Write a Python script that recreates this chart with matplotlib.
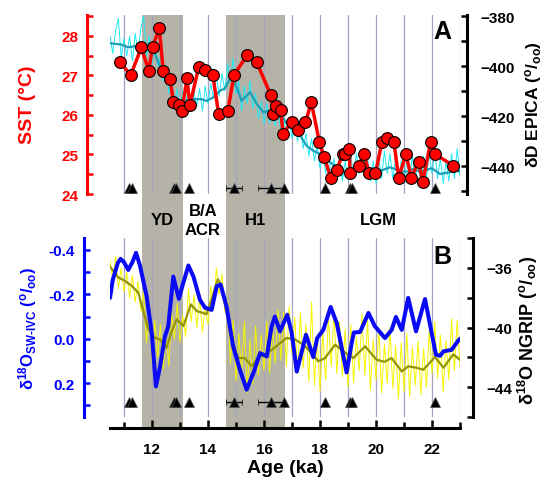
import matplotlib.pyplot as plt
from matplotlib.ticker import MultipleLocator, FixedLocator
import numpy as np

plt.rcParams['font.family'] = ['Liberation Sans', 'DejaVu Sans']
plt.rcParams['font.weight'] = 'bold'
plt.rcParams['mathtext.fontset'] = 'custom'
plt.rcParams['mathtext.rm'] = 'Liberation Sans:bold'
plt.rcParams['mathtext.bf'] = 'Liberation Sans:bold'
plt.rcParams['mathtext.it'] = 'Liberation Sans:bold'
plt.rcParams['mathtext.default'] = 'bf'

# ---- data ----
# SST record (panel A, left axis)
sst_age = [10.86, 11.24, 11.62, 11.88, 12.02, 12.26, 12.40, 12.65, 12.76, 12.95,
           13.07, 13.25, 13.35, 13.67, 13.88, 14.17, 14.38, 14.71, 14.93, 15.40,
           15.74, 16.24, 16.31, 16.42, 16.60, 16.68, 16.99, 17.20, 17.48, 17.69,
           17.98, 18.15, 18.39, 18.60, 18.81, 18.90, 19.05, 19.07, 19.38, 19.57,
           19.76, 19.98, 20.21, 20.38, 20.64, 20.81, 21.07, 21.26, 21.52, 21.67,
           21.95, 22.10, 22.76]
sst_val = [27.33, 27.01, 27.71, 27.12, 27.71, 28.20, 27.12, 26.91, 26.32, 26.24,
           26.11, 26.93, 26.24, 27.22, 27.14, 27.01, 26.03, 26.11, 27.01, 27.52,
           27.33, 26.51, 26.03, 26.22, 26.13, 25.52, 25.83, 25.62, 25.81, 26.32,
           25.31, 24.93, 24.41, 24.62, 25.01, 25.01, 25.14, 24.52, 24.72, 25.01,
           24.52, 24.52, 25.31, 25.41, 25.31, 24.41, 25.01, 24.41, 24.82, 24.31,
           25.31, 25.01, 24.72]

# EPICA dD raw (0.1 ka steps from 10.5 ka) and smoothed
epica_age = np.round(np.arange(10.5, 23.01, 0.1), 2)
epica_raw = [-388, -395, -386, -381, -397, -389, -396, -388, -398, -387,
             -395, -385, -380, -396, -388, -399, -391, -400, -396, -406,
             -400, -411, -404, -416, -409, -418, -410, -416, -408, -417,
             -410, -416, -409, -418, -408, -415, -407, -413, -404, -412,
             -403, -410, -399, -406, -397, -411, -406, -418, -408, -415,
             -406, -417, -411, -421, -414, -423, -415, -423, -416, -424,
             -418, -426, -420, -428, -421, -429, -423, -430, -424, -433,
             -427, -436, -429, -438, -432, -441, -434, -443, -435, -444,
             -437, -445, -436, -446, -438, -445, -436, -444, -435, -443,
             -434, -444, -437, -446, -438, -447, -437, -445, -434, -443,
             -435, -445, -437, -446, -438, -447, -437, -445, -436, -446,
             -437, -447, -436, -445, -435, -443, -434, -445, -437, -447,
             -438, -446, -435, -445, -433, -444]
epica_sm_age = [10.5, 10.9, 11.15, 11.5, 11.8, 12.1, 12.35, 12.64, 12.82, 13.18,
                13.48, 13.77, 13.95, 14.19, 14.43, 14.6, 14.85, 15.04, 15.2, 15.5,
                15.74, 15.98, 16.15, 16.39, 16.7, 16.9, 17.05, 17.25, 17.52, 17.76,
                18.0, 18.3, 18.65, 18.95, 19.25, 19.5, 19.79, 20.14, 20.5, 20.86,
                21.15, 21.35, 21.57, 21.99, 22.29, 22.64, 22.88, 23.0]
epica_sm = [-390.9, -391.4, -392.5, -391.9, -391.5, -395.2, -401.9, -407.9, -413.2, -413.9,
            -413.2, -413.3, -414.0, -412.5, -409.9, -409.0, -403.9, -409.0, -413.9, -410.5,
            -415.2, -418.5, -418.0, -419.2, -421.0, -424.5, -425.5, -427.0, -431.9, -433.9,
            -435.2, -437.9, -441.2, -442.5, -441.9, -440.8, -442.5, -442.0, -440.5, -442.0,
            -442.3, -441.0, -442.4, -440.9, -443.2, -442.5, -441.9, -442.3]

# seawater d18O (panel B, left axis, inverted)
sw_age = [10.5, 10.6, 10.78, 10.88, 11.0, 11.15, 11.3, 11.43, 11.57, 11.81, 11.99, 12.14,
          12.29, 12.46, 12.58, 12.76, 12.96, 13.09, 13.30, 13.48, 13.71, 13.89,
          14.13, 14.31, 14.45, 14.66, 14.90, 15.14, 15.38, 15.62, 15.86, 16.10,
          16.27, 16.39, 16.57, 16.83, 16.99, 17.17, 17.50, 17.76, 17.90, 18.12,
          18.38, 18.60, 18.95, 19.13, 19.21, 19.43, 19.73, 19.96, 20.32, 20.56,
          20.71, 20.92, 21.15, 21.43, 21.75, 22.14, 22.29, 22.41, 22.70, 22.94, 23.0]
sw_val = [-0.184, -0.266, -0.342, -0.36, -0.345, -0.31, -0.345, -0.387, -0.33, -0.19, -0.026, 0.215,
          0.125, -0.01, -0.055, -0.28, -0.18, -0.24, -0.33, -0.28, -0.176, -0.14,
          -0.13, -0.236, -0.244, -0.146, 0.035, 0.14, 0.23, 0.155, 0.065, 0.08,
          -0.055, -0.10, -0.033, -0.108, -0.026, 0.148, -0.018, 0.083, -0.003, -0.04,
          -0.143, -0.07, 0.152, 0.02, -0.028, -0.03, -0.116, -0.056, -0.003, -0.04,
          -0.098, -0.04, -0.184, -0.033, -0.179, 0.072, 0.077, 0.057, 0.05, 0.008, 0.0]

# NGRIP d18O raw (0.1 ka steps from 10.5 ka) and smoothed
ngrip_age = np.round(np.arange(10.5, 23.01, 0.1), 2)
ngrip_raw = [-35.5, -36.8, -35.2, -37.4, -36.0, -37.6, -36.3, -38.0, -36.5, -38.3,
             -36.9, -38.9, -37.6, -41.0, -39.0, -42.3, -39.5, -42.0, -39.8, -42.8,
             -40.2, -42.6, -39.0, -40.8, -38.4, -41.0, -39.2, -40.6, -37.4, -39.6,
             -37.8, -40.0, -38.0, -40.3, -38.6, -39.8, -37.2, -38.6, -36.0, -37.8,
             -36.4, -38.9, -38.2, -42.4, -39.5, -43.6, -40.4, -43.0, -39.6, -44.4,
             -40.8, -43.8, -39.9, -43.2, -40.5, -42.9, -39.6, -43.0, -40.1, -42.4,
             -38.8, -42.2, -39.0, -42.6, -38.6, -41.8, -39.3, -43.1, -39.0, -42.7,
             -39.8, -43.6, -38.3, -43.9, -40.6, -44.3, -40.2, -43.5, -39.3, -42.6,
             -39.0, -43.1, -39.6, -43.3, -40.1, -44.0, -39.8, -43.7, -40.6, -42.9,
             -39.1, -43.2, -39.5, -44.2, -40.8, -43.5, -40.0, -44.4, -41.1, -43.8,
             -40.0, -44.1, -41.2, -44.8, -41.0, -44.3, -40.4, -44.6, -41.3, -43.9,
             -40.9, -44.5, -41.4, -44.0, -40.2, -43.1, -39.6, -43.4, -40.5, -44.3,
             -40.9, -43.5, -39.4, -42.9, -39.5, -42.6]
ngrip_sm_age = [10.5, 10.8, 11.04, 11.27, 11.51, 11.69, 11.87, 12.11, 12.29, 12.52,
                12.70, 12.88, 13.12, 13.39, 13.60, 13.95, 14.13, 14.35, 14.49, 14.67,
                14.90, 15.08, 15.32, 15.56, 15.80, 16.04, 16.27, 16.51, 16.81, 17.11,
                17.40, 17.70, 17.94, 18.18, 18.54, 18.83, 19.19, 19.61, 20.02, 20.30,
                20.56, 20.92, 21.15, 21.45, 21.69, 22.11, 22.41, 22.76, 23.0]
ngrip_sm = [-35.93, -36.65, -36.88, -37.2, -37.66, -38.9, -40.13, -40.7, -40.8, -41.37,
            -40.25, -39.46, -39.9, -38.45, -38.9, -39.1, -38.1, -36.76, -37.2, -39.1,
            -41.15, -42.05, -42.05, -42.6, -42.0, -41.8, -41.5, -41.15, -40.7, -40.8,
            -41.15, -41.7, -42.27, -42.05, -41.15, -41.6, -42.05, -41.26, -42.16, -42.3,
            -42.05, -42.95, -42.6, -42.7, -42.83, -41.98, -42.7, -41.8, -42.16]

# age control points (triangles) and their errors
tie_age = [11.18, 11.30, 12.79, 12.85, 13.33, 14.93, 16.24, 16.71, 18.18, 19.08, 19.15, 22.11]
tie_err = [0, 0, 0, 0, 0, 0.30, 0.44, 0, 0, 0, 0, 0]

# shaded intervals: YD, H1
shade = [(11.64, 13.1), (14.64, 16.75)]
periods = ['YD', 'B/A', 'ACR', 'H1', 'LGM']
period_x = [12.36, 13.82, 13.82, 15.68, 20.1]
period_ypx = [221, 211, 231, 221, 221]

# ---- layout (pixel boxes) ----
W, H = 548, 485


def box(x0, y0, x1, y1):
    return [x0 / W, 1 - y1 / H, (x1 - x0) / W, (y1 - y0) / H]


def px2pt(p):
    return p * 72 / 100.


fig = plt.figure(figsize=(5.48, 4.85), dpi=100)
xmin, xmax = 10.5, 23.0

# base axes: shading + age axis
ax = fig.add_axes(box(110, 16, 460, 429))
ax.set_xlim(xmin, xmax)
ax.set_ylim(0, 1)
for a0, a1 in shade:
    ax.axvspan(a0, a1, color='#b5b3a7', lw=0)
for s in ['left', 'right', 'top']:
    ax.spines[s].set_visible(False)
ax.spines['bottom'].set_linewidth(2.2)
ax.set_yticks([])
ax.xaxis.set_major_locator(FixedLocator([12, 14, 16, 18, 20, 22]))
ax.xaxis.set_minor_locator(FixedLocator([11, 13, 15, 17, 19, 21, 23]))
ax.tick_params(axis='x', which='major', direction='in', length=px2pt(8), width=1.8,
               labelsize=11, pad=px2pt(14))
ax.tick_params(axis='x', which='minor', direction='in', length=px2pt(6), width=1.8)
ax.set_xlabel('Age (ka)', fontsize=14, fontweight='bold', labelpad=2)

for name, px, py in zip(periods, period_x, period_ypx):
    ax.text(px, (429 - py) / 413, name, transform=ax.get_xaxis_transform(),
            ha='center', va='center', fontsize=12)


def setup_panel(box_px, lcol, loff, roff):
    left = fig.add_axes(box(*box_px))
    right = left.twinx()
    left.set_zorder(right.get_zorder() + 1)
    left.patch.set_visible(False)
    for a in (left, right):
        a.set_xlim(xmin, xmax)
        a.spines['top'].set_visible(False)
        a.spines['bottom'].set_visible(False)
        a.xaxis.set_visible(False)
    left.spines['right'].set_visible(False)
    right.spines['left'].set_visible(False)
    left.spines['left'].set_position(('outward', px2pt(loff)))
    left.spines['left'].set_color(lcol)
    left.spines['left'].set_linewidth(2.2)
    right.spines['right'].set_position(('outward', px2pt(roff)))
    right.spines['right'].set_linewidth(2.2)
    left.tick_params(axis='y', which='both', direction='in', colors=lcol,
                     length=px2pt(6), width=1.8, labelsize=11, pad=px2pt(9))
    right.tick_params(axis='y', which='both', direction='in', colors='black',
                      length=px2pt(6), width=1.8, labelsize=11, pad=px2pt(13))
    for t in range(11, 24):
        right.axvline(t, color='#a4a4c0', lw=0.9, zorder=0)
    return left, right


# ---- panel A ----
axS, axD = setup_panel((110, 16, 460, 195), 'red', 23, 7)
axD.plot(epica_age, epica_raw, color='#20e8f4', lw=0.7)
axD.plot(epica_sm_age, epica_sm, color='#1b9fb6', lw=1.6)
axD.set_ylim(-451.2, -379.6)
axD.yaxis.set_major_locator(FixedLocator([-440, -420, -400, -380]))
axD.yaxis.set_minor_locator(MultipleLocator(10))

axS.plot(sst_age, sst_val, color='red', lw=2.5, marker='o', ms=8.5,
         mfc='red', mec='black', mew=0.8)
axS.set_ylim(24, 28.53)
axS.yaxis.set_major_locator(FixedLocator([24, 25, 26, 27, 28]))
axS.yaxis.set_minor_locator(MultipleLocator(0.5))
axS.errorbar(tie_age, [24.15] * len(tie_age), xerr=tie_err, fmt='^', color='black',
             ms=6.5, mec='#555555', mew=0.5, elinewidth=1, capsize=2, capthick=1)
axS.text(0.95, 0.91, 'A', transform=axS.transAxes, ha='center', va='center',
         fontsize=18)

# ---- panel B ----
axB, axN = setup_panel((110, 239, 460, 418), 'blue', 26, 13)
axN.plot(ngrip_age, ngrip_raw, color='#f5f500', lw=0.7)
axN.plot(ngrip_sm_age, ngrip_sm, color='#949400', lw=1.6)
axN.set_ylim(-46, -34)
axN.yaxis.set_major_locator(FixedLocator([-44, -40, -36]))
axN.yaxis.set_minor_locator(MultipleLocator(2))

axB.plot(sw_age, sw_val, color='#0a0af5', lw=2.9, solid_joinstyle='round',
         solid_capstyle='round')
axB.set_ylim(0.353, -0.454)
axB.yaxis.set_major_locator(FixedLocator([-0.4, -0.2, 0.0, 0.2]))
axB.yaxis.set_minor_locator(MultipleLocator(0.1))
axB.yaxis.set_major_formatter(lambda v, p: '%.1f' % v if abs(v) > 1e-9 else '0.0')
axB.errorbar(tie_age, [0.284] * len(tie_age), xerr=tie_err, fmt='^', color='black',
             ms=6.5, mec='#555555', mew=0.5, elinewidth=1, capsize=2, capthick=1)
axB.text(0.95, 0.9, 'B', transform=axB.transAxes, ha='center', va='center',
         fontsize=18)

# ---- axis titles ----
fig.text(27 / W, 1 - 105 / H, 'SST (°C)', color='red', rotation=90,
         ha='center', va='center', fontsize=14)
fig.text(533 / W, 1 - 105 / H, r'δD EPICA ($^{o}$/$_{oo}$)', color='black',
         rotation=90, ha='center', va='center', fontsize=12.5)
fig.text(28 / W, 1 - 328 / H, r'δ$^{18}$O$_{\text{SW-IVC}}$ ($^{o}$/$_{oo}$)',
         color='blue', rotation=90, ha='center', va='center', fontsize=12)
fig.text(528 / W, 1 - 330 / H, r'δ$^{18}$O NGRIP ($^{o}$/$_{oo}$)', color='black',
         rotation=90, ha='center', va='center', fontsize=13)

fig.savefig('out.png', dpi=100)
